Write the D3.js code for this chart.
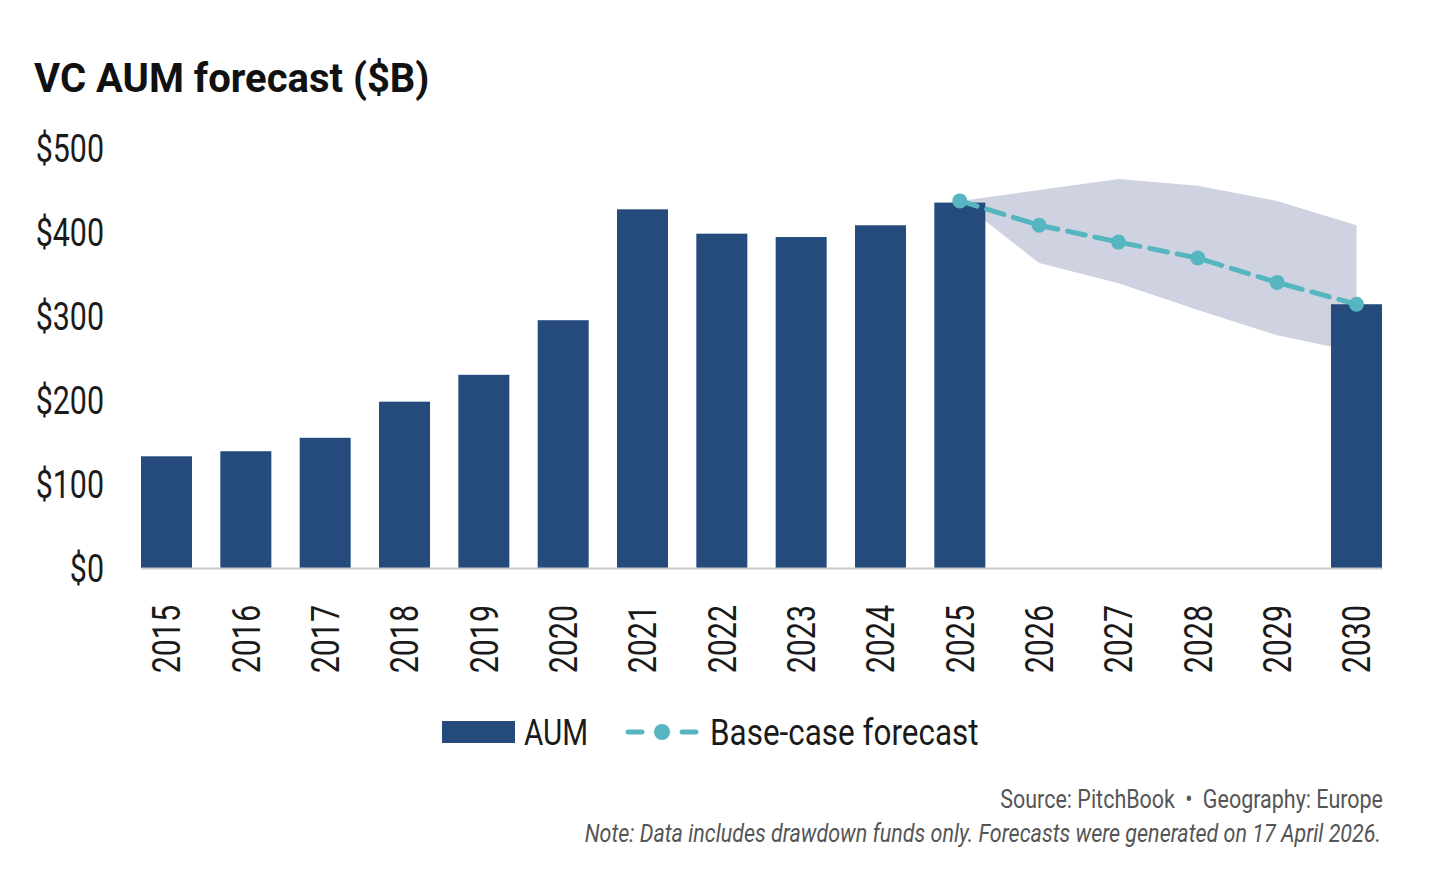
<!DOCTYPE html>
<html>
  <head>
    <title>VC AUM forecast</title>
    <script src="https://d3js.org/d3.v7.min.js"></script>
    <style>
      body { margin: 0; background: #fff; }
      text { font-family: Roboto, "Noto Sans", sans-serif; }
    </style>
  </head>
  <body>
    <svg width="1440" height="885"></svg>
    <script>
      const years = ["2015","2016","2017","2018","2019","2020","2021","2022","2023","2024","2025","2026","2027","2028","2029","2030"];
      const aumYears = ["2015","2016","2017","2018","2019","2020","2021","2022","2023","2024","2025","2030"];
      const aumValues = [133, 139, 155, 198, 230, 295, 427, 398, 394, 408, 435, 314];
      const forecastYears = ["2025","2026","2027","2028","2029","2030"];
      const forecastValues = [437, 408, 388, 369, 340, 314];
      const bandUpper = [437, 450, 463, 455, 437, 408];
      const bandLower = [437, 363, 339, 307, 277, 257];
      const yTicks = [0, 100, 200, 300, 400, 500];

      const barColor = "#244b7b";
      const lineColor = "#56b6c0";
      const bandColor = "#cfd3e1";
      const squeeze = 0.8; // narrow the glyphs, the original uses a condensed face

      const svg = d3.select("svg");
      const plotLeft = 141, plotRight = 1382, plotTop = 148, plotBottom = 568;

      const x = d3.scaleBand().domain(years).range([plotLeft, plotRight]).paddingInner(0.357).paddingOuter(0);
      const y = d3.scaleLinear().domain([0, 500]).range([plotBottom, plotTop]);
      const cx = d => x(d) + x.bandwidth() / 2;

      // title
      svg.append("text")
        .attr("x", 34).attr("y", 92)
        .attr("font-size", 40).attr("font-weight", 700).attr("fill", "#111")
        .text("VC AUM forecast ($B)");

      // forecast range band
      const band = forecastYears.map((d, i) => ({ year: d, hi: bandUpper[i], lo: bandLower[i] }));
      svg.append("path")
        .datum(band)
        .attr("fill", bandColor)
        .attr("d", d3.area().x(d => cx(d.year)).y0(d => y(d.lo)).y1(d => y(d.hi)));

      // bars
      svg.selectAll("rect.bar")
        .data(aumYears.map((d, i) => ({ year: d, value: aumValues[i] })))
        .enter().append("rect")
          .attr("class", "bar")
          .attr("x", d => x(d.year))
          .attr("width", x.bandwidth())
          .attr("y", d => y(d.value))
          .attr("height", d => y(0) - y(d.value))
          .attr("fill", barColor);

      // y axis
      const yAxis = svg.append("g")
        .attr("transform", `translate(${plotLeft},0)`)
        .call(d3.axisLeft(y).tickValues(yTicks).tickSize(0).tickFormat(d => "$" + d));
      yAxis.select(".domain").remove();
      yAxis.selectAll("text")
        .attr("x", 0).attr("dy", "0.36em")
        .attr("transform", `translate(-37,0) scale(${squeeze},1)`)
        .attr("font-family", "Roboto").attr("font-size", 38).attr("fill", "#1a1a1a");

      // x axis
      const xAxis = svg.append("g")
        .attr("transform", `translate(0,${plotBottom})`)
        .call(d3.axisBottom(x).tickSize(0));
      xAxis.select(".domain").attr("stroke", "#c9c9c9").attr("stroke-width", 2);
      xAxis.selectAll("text")
        .attr("x", 0).attr("y", 0).attr("dy", "0.36em")
        .attr("text-anchor", "end")
        .attr("transform", `translate(0,37) rotate(-90) scale(${squeeze},1)`)
        .attr("font-family", "Roboto").attr("font-size", 38).attr("fill", "#1a1a1a");

      // forecast line
      const pts = forecastYears.map((d, i) => ({ year: d, value: forecastValues[i] }));
      svg.append("path")
        .datum(pts)
        .attr("fill", "none")
        .attr("stroke", lineColor)
        .attr("stroke-width", 5)
        .attr("stroke-dasharray", "18,10")
        .attr("stroke-linecap", "round")
        .attr("d", d3.line().x(d => cx(d.year)).y(d => y(d.value)));
      svg.selectAll("circle.pt")
        .data(pts)
        .enter().append("circle")
          .attr("class", "pt")
          .attr("cx", d => cx(d.year))
          .attr("cy", d => y(d.value))
          .attr("r", 7.5)
          .attr("fill", lineColor);

      // legend
      const legend = svg.append("g").attr("transform", "translate(0,732)");
      legend.append("rect").attr("x", 442).attr("y", -11).attr("width", 73).attr("height", 22).attr("fill", barColor);
      legend.append("text")
        .attr("transform", `translate(524,0) scale(${squeeze},1)`)
        .attr("dy", "0.36em").attr("font-size", 37).attr("fill", "#1a1a1a")
        .text("AUM");
      legend.selectAll("line.dash")
        .data([[628, 642], [682, 696]])
        .enter().append("line")
          .attr("class", "dash")
          .attr("x1", d => d[0]).attr("x2", d => d[1]).attr("y1", 0).attr("y2", 0)
          .attr("stroke", lineColor).attr("stroke-width", 5).attr("stroke-linecap", "round");
      legend.append("circle").attr("cx", 662).attr("cy", 0).attr("r", 8).attr("fill", lineColor);
      legend.append("text")
        .attr("transform", `translate(710,0) scale(0.85,1)`)
        .attr("dy", "0.36em").attr("font-size", 37).attr("fill", "#1a1a1a")
        .text("Base-case forecast");

      // source and note
      const foot = svg.append("g").attr("fill", "#555").attr("font-size", 25);
      foot.append("text")
        .attr("transform", `translate(1175,808) scale(0.86,1)`)
        .attr("text-anchor", "end").text("Source: PitchBook");
      foot.append("text")
        .attr("transform", `translate(1189,808) scale(0.86,1)`)
        .attr("text-anchor", "middle").text("\u2022");
      foot.append("text")
        .attr("transform", `translate(1383,808) scale(0.86,1)`)
        .attr("text-anchor", "end").text("Geography: Europe");
      foot.append("text")
        .attr("transform", `translate(1381,842) scale(0.86,1)`)
        .attr("text-anchor", "end").attr("font-style", "italic")
        .text("Note: Data includes drawdown funds only. Forecasts were generated on 17 April 2026.");
    </script>
  </body>
</html>
